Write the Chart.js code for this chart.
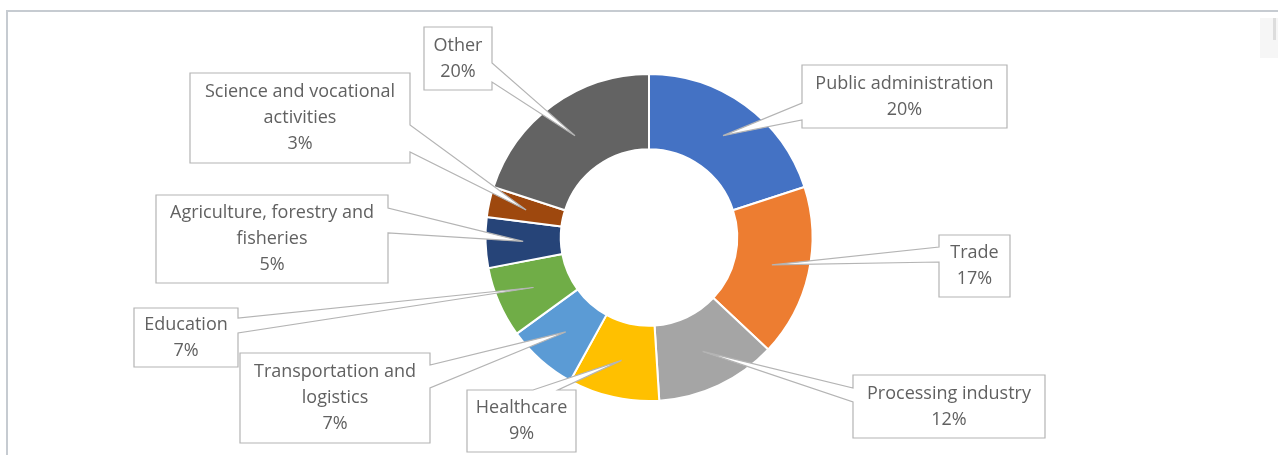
<!DOCTYPE html>
<html>
<head>
<meta charset="utf-8">
<script src="https://cdn.jsdelivr.net/npm/chart.js@4.4.1/dist/chart.umd.min.js"></script>
<style>
  html, body { margin: 0; padding: 0; background: #fff; }
  #wrap { position: relative; width: 1278px; height: 455px; }
</style>
</head>
<body>
<div id="wrap"><canvas id="myChart" width="1278" height="455"></canvas></div>
<script>
// employment by sector, share of total
const categories = [
  ['Public administration'],
  ['Trade'],
  ['Processing industry'],
  ['Healthcare'],
  ['Transportation and', 'logistics'],
  ['Education'],
  ['Agriculture, forestry and', 'fisheries'],
  ['Science and vocational', 'activities'],
  ['Other']
];
const shares = [20, 17, 12, 9, 7, 7, 5, 3, 20];

const sliceColors = [
  '#4472C4', '#ED7D31', '#A5A5A5', '#FFC000', '#5B9BD5',
  '#70AD47', '#264478', '#9E480E', '#636363'
];

// label boxes: x, y, w, h, which side the pointer leaves from, and the pointer base span
const calloutBoxes = [
  { x: 802, y: 65,  w: 205, h: 63, side: 'left',  b1: 103, b2: 120 },
  { x: 939, y: 235, w: 71,  h: 62, side: 'left',  b1: 247, b2: 262 },
  { x: 853, y: 375, w: 192, h: 63, side: 'left',  b1: 388, b2: 402 },
  { x: 467, y: 390, w: 109, h: 62, side: 'top',   b1: 533, b2: 558 },
  { x: 240, y: 353, w: 190, h: 90, side: 'right', b1: 365, b2: 388 },
  { x: 134, y: 308, w: 104, h: 59, side: 'right', b1: 318, b2: 333 },
  { x: 156, y: 195, w: 232, h: 88, side: 'right', b1: 208, b2: 233 },
  { x: 190, y: 73,  w: 220, h: 90, side: 'right', b1: 125, b2: 152 },
  { x: 424, y: 27,  w: 68,  h: 63, side: 'right', b1: 63,  b2: 82 }
];

const frame = {
  id: 'frame',
  beforeDraw(chart) {
    const c = chart.ctx;
    c.save();
    c.strokeStyle = '#C6CBD1';
    c.lineWidth = 2;
    c.beginPath();
    c.moveTo(7, 455);
    c.lineTo(7, 11);
    c.lineTo(1278, 11);
    c.stroke();
    // clipped edge of a neighbouring element
    c.fillStyle = '#F6F6F6';
    c.fillRect(1260, 18, 18, 40);
    c.fillStyle = '#DDDDDD';
    c.fillRect(1273, 18, 3, 22);
    c.restore();
  }
};

function calloutPath(c, b, p) {
  const r = b.x + b.w, btm = b.y + b.h;
  c.beginPath();
  c.moveTo(b.x, b.y);
  if (b.side === 'top') {
    c.lineTo(b.b1, b.y);
    c.lineTo(p.x, p.y);
    c.lineTo(b.b2, b.y);
  }
  c.lineTo(r, b.y);
  if (b.side === 'right') {
    c.lineTo(r, b.b1);
    c.lineTo(p.x, p.y);
    c.lineTo(r, b.b2);
  }
  c.lineTo(r, btm);
  c.lineTo(b.x, btm);
  if (b.side === 'left') {
    c.lineTo(b.x, b.b2);
    c.lineTo(p.x, p.y);
    c.lineTo(b.x, b.b1);
  }
  c.closePath();
}

const callouts = {
  id: 'callouts',
  afterDatasetsDraw(chart) {
    const c = chart.ctx;
    const arcs = chart.getDatasetMeta(0).data;
    c.save();
    c.font = '18px "Open Sans"';
    c.textAlign = 'center';
    c.textBaseline = 'middle';
    arcs.forEach((arc, i) => {
      const b = calloutBoxes[i];
      const p = arc.tooltipPosition();
      calloutPath(c, b, p);
      c.fillStyle = '#FFFFFF';
      c.fill();
      c.strokeStyle = '#B4B4B4';
      c.lineWidth = 1.2;
      c.stroke();
      const lines = categories[i].concat([shares[i] + '%']);
      const lh = 26;
      const cx = b.x + b.w / 2;
      const top = b.y + b.h / 2 - (lines.length - 1) * lh / 2;
      c.fillStyle = '#616161';
      lines.forEach((t, k) => c.fillText(t, cx, top + k * lh));
    });
    c.restore();
  }
};

const ctx = document.getElementById('myChart');

new Chart(ctx, {
  type: 'doughnut',
  data: {
    labels: categories.map(l => l.join(' ')),
    datasets: [{
      data: shares,
      backgroundColor: sliceColors,
      borderColor: '#FFFFFF',
      borderWidth: 2
    }]
  },
  options: {
    responsive: false,
    animation: false,
    cutout: '54%',
    layout: { padding: { left: 20, right: 0, top: 73, bottom: 53 } },
    plugins: {
      legend: { display: false },
      tooltip: { enabled: false }
    }
  },
  plugins: [frame, callouts]
});
</script>
</body>
</html>
